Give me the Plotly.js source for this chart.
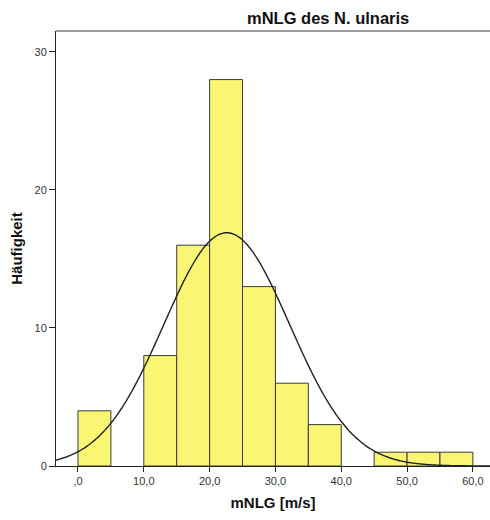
<!DOCTYPE html>
<html>
<head>
<meta charset="utf-8">
<script src="https://cdn.plot.ly/plotly-3.0.1.min.js"></script>
<style>
  html, body { margin: 0; padding: 0; background: #fff; overflow: hidden; }
  #chart { width: 490px; height: 520px; }
</style>
</head>
<body>
<div id="chart"></div>
<script>
// Histogram bins (lower edges, width 5 m/s) and their frequencies
const binStarts = [0, 5, 10, 15, 20, 25, 30, 35, 40, 45, 50, 55];
const binWidth = 5;
const counts = [4, 0, 8, 16, 28, 13, 6, 3, 0, 1, 1, 1];

// Parameters of the fitted normal curve
const fitMean = 22.6;
const fitSd = 9.56;
const sampleN = 81;

// Axis tick labels (German decimal comma)
const xTickVals = [0, 10, 20, 30, 40, 50, 60];
const xTickText = [',0', '10,0', '20,0', '30,0', '40,0', '50,0', '60,0'];
const yTickVals = [0, 10, 20, 30];

const xRange = [-3.34, 62.6];
const yRange = [0, 31.52];

// Bars: centre each bar in its bin; empty bins are left out
const barX = [], barY = [];
binStarts.forEach((b, i) => {
  if (counts[i] > 0) { barX.push(b + binWidth / 2); barY.push(counts[i]); }
});

// Normal density scaled to frequencies per bin
const curveX = [], curveY = [];
const steps = 300;
for (let i = 0; i <= steps; i++) {
  const x = xRange[0] + (xRange[1] - xRange[0]) * i / steps;
  const z = (x - fitMean) / fitSd;
  const pdf = Math.exp(-0.5 * z * z) / (fitSd * Math.sqrt(2 * Math.PI));
  curveX.push(x);
  curveY.push(pdf * sampleN * binWidth);
}

const bars = {
  type: 'bar',
  x: barX,
  y: barY,
  width: binWidth,
  marker: { color: '#FAF674', line: { color: '#3a3a3a', width: 1 } },
  hoverinfo: 'x+y'
};

const curve = {
  type: 'scatter',
  mode: 'lines',
  x: curveX,
  y: curveY,
  line: { color: '#222222', width: 1.4, shape: 'spline' },
  hoverinfo: 'skip'
};

const font = 'Liberation Sans, Arial, sans-serif';

const layout = {
  width: 490,
  height: 520,
  margin: { l: 56, r: 0, t: 31, b: 54 },
  paper_bgcolor: '#ffffff',
  plot_bgcolor: '#ffffff',
  showlegend: false,
  bargap: 0,
  title: {
    text: '<b>mNLG des N. ulnaris</b>',
    font: { family: font, size: 16.5, color: '#111' },
    xref: 'paper', x: 0.627, xanchor: 'center',
    yref: 'container', y: 0.965, yanchor: 'middle'
  },
  xaxis: {
    range: xRange,
    tickvals: xTickVals,
    ticktext: xTickText,
    ticks: 'outside',
    ticklen: 5,
    tickcolor: '#222',
    tickfont: { family: font, size: 11, color: '#333' },
    showgrid: false,
    zeroline: false,
    showline: true,
    linecolor: '#222',
    linewidth: 1,
    title: {
      text: '<b>mNLG [m/s]</b>',
      font: { family: font, size: 15, color: '#111' },
      standoff: 11
    }
  },
  yaxis: {
    range: yRange,
    tickvals: yTickVals,
    ticks: 'outside',
    ticklen: 6,
    tickcolor: '#222',
    tickfont: { family: font, size: 11, color: '#333' },
    showgrid: false,
    zeroline: false,
    showline: true,
    linecolor: '#222',
    linewidth: 1,
    title: {
      text: '<b>Häufigkeit</b>',
      font: { family: font, size: 15, color: '#111' },
      standoff: 8
    }
  },
  shapes: [{
    type: 'line', xref: 'paper', yref: 'paper',
    x0: 0, x1: 1, y0: 1, y1: 1,
    line: { color: '#777', width: 1.5 }
  }]
};

Plotly.newPlot('chart', [bars, curve], layout, { displayModeBar: false, staticPlot: true });
</script>
</body>
</html>
